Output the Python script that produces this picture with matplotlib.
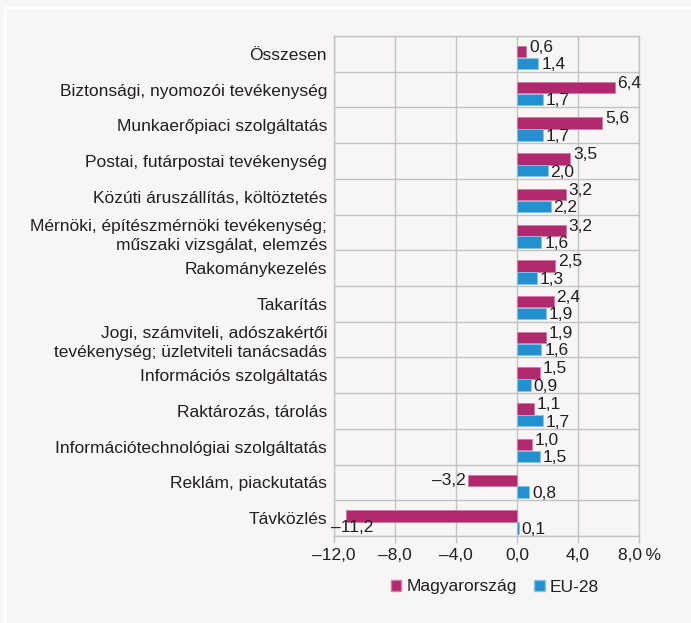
import matplotlib.pyplot as plt
import numpy as np
from matplotlib.patches import Patch
from matplotlib.lines import Line2D

plt.rcParams['font.family'] = ['Liberation Sans', 'DejaVu Sans']

# Data
categories = [
    "Összesen",
    "Biztonsági, nyomozói tevékenység",
    "Munkaerőpiaci szolgáltatás",
    "Postai, futárpostai tevékenység",
    "Közúti áruszállítás, költöztetés",
    "Mérnöki, építészmérnöki tevékenység;\nműszaki vizsgálat, elemzés",
    "Rakománykezelés",
    "Takarítás",
    "Jogi, számviteli, adószakértői\ntevékenység; üzletviteli tanácsadás",
    "Információs szolgáltatás",
    "Raktározás, tárolás",
    "Információtechnológiai szolgáltatás",
    "Reklám, piackutatás",
    "Távközlés",
]
hu = [0.6, 6.4, 5.6, 3.5, 3.2, 3.2, 2.5, 2.4, 1.9, 1.5, 1.1, 1.0, -3.2, -11.2]
eu = [1.4, 1.7, 1.7, 2.0, 2.2, 1.6, 1.3, 1.9, 1.6, 0.9, 1.7, 1.5, 0.8, 0.1]
xticks = [-12, -8, -4, 0, 4, 8]
xticklabels = ["–12,0", "–8,0", "–4,0", "0,0", "4,0", "8,0\u2009%"]

bg = '#f7f6f4'
mag = '#b0286e'
blue = '#2391cf'
txt = '#231f20'
grid = '#c3c3c3'
fs = 12.5

fig = plt.figure(figsize=(6.91, 6.23), dpi=100, facecolor=bg)
ax = fig.add_axes([334 / 691, 1 - 536 / 623, 305 / 691, 500 / 623])
ax.set_facecolor(bg)

# white frame lines (top and left)
fig.lines.append(Line2D([5 / 691, 1], [1 - 8 / 623, 1 - 8 / 623], transform=fig.transFigure,
                        color='white', linewidth=1.5, zorder=0))
fig.lines.append(Line2D([5 / 691, 5 / 691], [0, 1 - 8 / 623], transform=fig.transFigure,
                        color='white', linewidth=1.5, zorder=0))

y = np.arange(len(categories))
h = 0.32
y_hu = y - 0.06
y_eu = y + 0.27
ax.barh(y_hu, hu, height=h, color=mag, edgecolor='#d77aa6', linewidth=0.6, zorder=3)
ax.barh(y_eu, eu, height=h, color=blue, edgecolor='#86c4ea', linewidth=0.6, zorder=3)


def fmt(v):
    s = f"{abs(v):.1f}".replace('.', ',')
    return ("–" + s) if v < 0 else s


for yi, v in zip(y_hu, hu):
    if v >= 0:
        ax.annotate(fmt(v), (v, yi), xytext=(2, 3), textcoords='offset points',
                    ha='left', va='center', fontsize=fs, color=txt)
    elif v > -8:
        ax.annotate(fmt(v), (v, yi), xytext=(-2, 0), textcoords='offset points',
                    ha='right', va='center', fontsize=fs, color=txt)
    else:
        ax.annotate(fmt(v), (v, yi + 0.33), xytext=(-11, 0), textcoords='offset points',
                    ha='left', va='center', fontsize=fs, color=txt)
for yi, v in zip(y_eu, eu):
    ax.annotate(fmt(v), (v, yi), xytext=(2, -1), textcoords='offset points',
                ha='left', va='center', fontsize=fs, color=txt)

ax.set_xlim(-12, 8)
ax.set_ylim(len(categories) - 0.5, -0.5)
ax.set_xticks(xticks)
ax.set_xticklabels(xticklabels, fontsize=fs, color=txt)
ax.set_yticks(y)
ax.set_yticklabels(categories, fontsize=fs, color=txt)
for t in ax.get_yticklabels():
    t.set_linespacing(1.35)
ax.set_yticks(np.arange(len(categories) + 1) - 0.5, minor=True)
ax.grid(True, axis='x', color=grid, linewidth=1, zorder=0)
ax.grid(True, axis='y', which='minor', color=grid, linewidth=1, zorder=0)
ax.tick_params(axis='y', which='both', length=0, pad=5)
ax.tick_params(axis='x', length=5, color=grid, width=1, pad=4)
for s in ax.spines.values():
    s.set_color(grid)
    s.set_linewidth(1)

handles = [Patch(facecolor=mag, edgecolor='#d77aa6', label='Magyarország'),
           Patch(facecolor=blue, edgecolor='#86c4ea', label='EU-28')]
fig.legend(handles=handles, loc='center', bbox_to_anchor=(495 / 691, 1 - 587 / 623),
           ncol=2, frameon=False, fontsize=fs, handlelength=0.6, handleheight=0.6,
           handletextpad=0.3, columnspacing=1.0, labelcolor=txt)

fig.savefig('out.png', dpi=100, facecolor=bg)
